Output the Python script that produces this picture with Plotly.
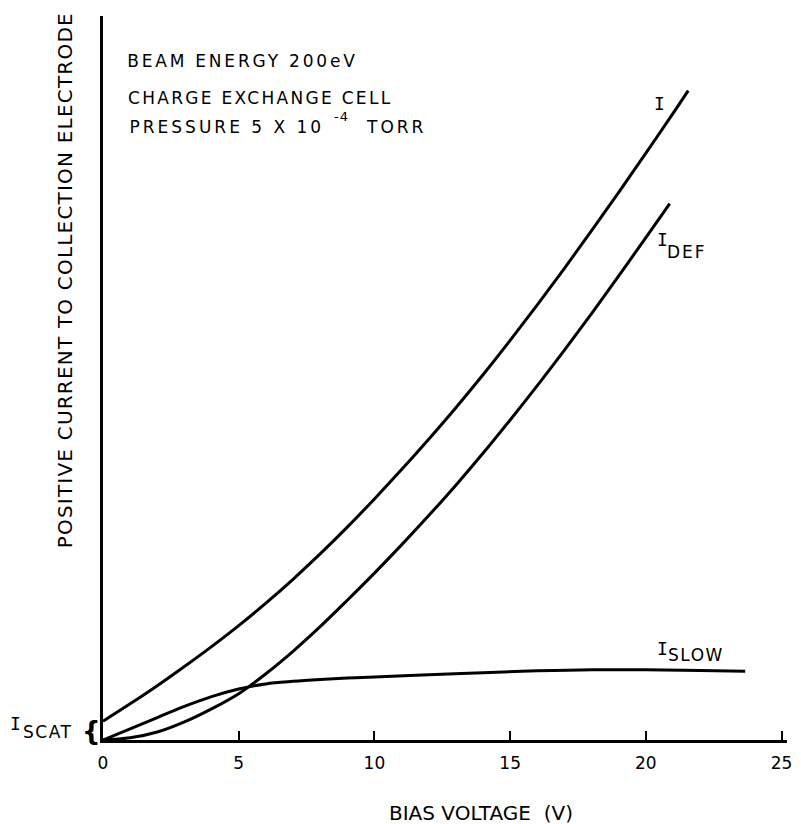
import plotly.graph_objects as go

# Bias voltage (V) and collected current (arbitrary units) for each component
bias_total = [0, 1, 2, 3, 4, 5, 6, 7, 8, 9, 10, 11, 12, 13, 14, 15, 16, 17, 18, 19, 20, 21, 21.56]
current_total = [2.6, 5.0, 7.5, 10.15, 12.9, 15.8, 18.9, 22.2, 25.7, 29.4, 33.3, 37.35, 41.55, 45.9,
                 50.45, 55.2, 60.1, 65.15, 70.35, 75.65, 81.05, 86.55, 89.7]

bias_def = [0, 1, 2, 3, 4, 5, 6, 7, 8, 9, 10, 11, 12, 13, 14, 15, 16, 17, 18, 19, 20, 20.88]
current_def = [0, 0.3, 1.1, 2.5, 4.3, 6.4, 9.15, 12.25, 15.65, 19.3, 23.05, 26.95, 31.0, 35.2,
               39.6, 44.2, 48.95, 53.85, 58.9, 64.1, 69.4, 74.1]

bias_slow = [0, 1, 2, 3, 4, 5, 6, 7, 8, 9, 10, 12, 14, 16, 18, 20, 22, 23.66]
current_slow = [0, 1.55, 3.1, 4.65, 6.0, 7.05, 7.75, 8.1, 8.35, 8.55, 8.7, 9.0, 9.3, 9.55, 9.7, 9.7, 9.6, 9.5]

x_ticks = [0, 5, 10, 15, 20, 25]
x_tick_text = ["0", "5", "10", "15", "20", "25"]

W, H = 801, 824
L, R, T, B = 103, 9, 16, 84
PW, PH = W - L - R, H - T - B
FONT = "DejaVu Sans"
SYMBOL_FONT = "DejaVu Sans Mono"  # serifed capital I for the current symbols


def paper(px, py):
    """Convert page pixel position to paper coordinates."""
    return (px - L) / PW, (H - B - py) / PH


fig = go.Figure()
for xs, ys in [(bias_total, current_total), (bias_def, current_def), (bias_slow, current_slow)]:
    fig.add_trace(go.Scatter(
        x=xs, y=ys, mode="lines",
        line=dict(color="black", width=3, shape="spline", smoothing=1.0),
        cliponaxis=False, hoverinfo="skip", showlegend=False,
    ))

annotations = []
letter_spacing = {}


def label(text, px, py, size=17, angle=0, spacing=0.0, weight="normal", family=FONT):
    x, y = paper(px, py)
    if spacing:
        letter_spacing[len(annotations)] = spacing
    annotations.append(dict(
        text=text, x=x, y=y, xref="paper", yref="paper", showarrow=False,
        xanchor="center", yanchor="middle", textangle=angle,
        font=dict(family=family, size=size, color="black", weight=weight),
    ))


# Run conditions
label("BEAM ENERGY 200eV", 244, 61, spacing=2.8)
label("CHARGE EXCHANGE CELL", 262, 98, spacing=2.3)
label("PRESSURE 5 X 10", 228, 127, spacing=3.0)
label("-4", 343, 117, size=13, spacing=1.0)
label("TORR", 399, 127, spacing=3.0)

# Curve labels
label("I", 664, 103, size=18, family=SYMBOL_FONT)
label("I", 667, 239, size=18, family=SYMBOL_FONT)
label("DEF", 691, 252, spacing=2.0)
label("I", 667, 648, size=18, family=SYMBOL_FONT)
label("SLOW", 700, 655, spacing=1.5)
label("I", 15, 723, size=18, family=SYMBOL_FONT)
label("SCAT", 48, 732, spacing=1.5)
label("{", 91, 731, size=26, weight="bold")

# Axis titles
label("BIAS VOLTAGE\u00a0\u00a0(V)", 484, 813, size=20)
label("POSITIVE CURRENT TO COLLECTION ELECTRODE", 65, 280, size=20, angle=-90, spacing=1.2)

fig.update_layout(
    width=W, height=H,
    margin=dict(l=L, r=R, t=T, b=B, pad=0),
    paper_bgcolor="white", plot_bgcolor="white",
    font=dict(family=FONT, color="black"),
    showlegend=False,
    annotations=annotations,
    xaxis=dict(
        range=[0, 25.2], showgrid=False, zeroline=False,
        showline=True, linecolor="black", linewidth=3,
        ticks="inside", ticklen=9, tickwidth=2, tickcolor="black",
        tickvals=x_ticks, ticktext=x_tick_text,
        tickfont=dict(family=FONT, size=17, color="black"),
        ticklabelstandoff=6,
    ),
    yaxis=dict(
        range=[0, 100], showgrid=False, zeroline=False,
        showline=True, linecolor="black", linewidth=3,
        ticks="", showticklabels=False,
    ),
)

# Widen the hand-lettered style text with letter spacing
js = "var gd = document.getElementById('{plot_id}');\n"
for idx, sp in letter_spacing.items():
    js += (
        "gd.querySelectorAll('.annotation[data-index=\"%d\"] text').forEach("
        "function(t){ t.style.letterSpacing = '%.2fpx'; });\n" % (idx, sp)
    )

fig.write_html("out.html", post_script=js)
